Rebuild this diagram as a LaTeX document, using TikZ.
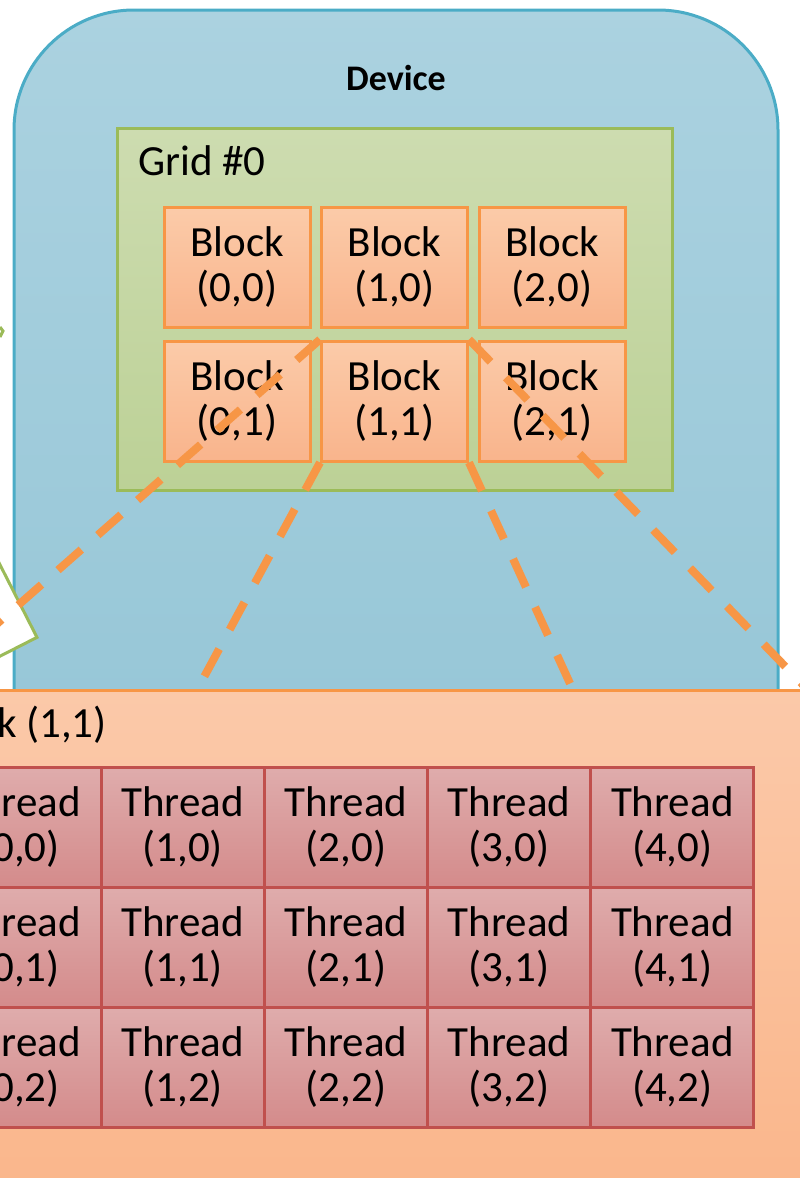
\documentclass[tikz,border=0pt]{standalone}
\usepackage{fontspec}
\setmainfont{Carlito}
\usetikzlibrary{positioning,calc}

\definecolor{devtop}{RGB}{171,210,224}
\definecolor{devbot}{RGB}{146,196,213}
\definecolor{devline}{RGB}{75,172,198}
\definecolor{gridtop}{RGB}{205,220,176}
\definecolor{gridbot}{RGB}{188,209,150}
\definecolor{gridline}{RGB}{155,187,89}
\definecolor{blktop}{RGB}{251,203,169}
\definecolor{blkbot}{RGB}{249,180,140}
\definecolor{blkline}{RGB}{247,150,70}
\definecolor{bigtop}{RGB}{251,201,169}
\definecolor{bigbot}{RGB}{250,180,136}
\definecolor{thrtop}{RGB}{223,172,172}
\definecolor{thrbot}{RGB}{212,139,139}
\definecolor{thrline}{RGB}{192,80,77}

\begin{document}
\begin{tikzpicture}[x=1pt,y=-1pt,font=\fontsize{43}{45}\selectfont]
\tikzstyle{devbox}=[draw=devline,line width=3pt,top color=devtop,bottom color=devbot,rounded corners=120pt,minimum width=764pt,minimum height=890pt,inner sep=0pt]
\tikzstyle{gridbox}=[draw=gridline,line width=3pt,top color=gridtop,bottom color=gridbot,minimum width=555pt,minimum height=362pt,inner sep=0pt]
\tikzstyle{blk}=[draw=blkline,line width=3pt,top color=blktop,bottom color=blkbot,minimum width=146pt,minimum height=120pt,inner sep=0pt,align=center]
\tikzstyle{bigbox}=[draw=blkline,line width=3pt,top color=bigtop,bottom color=bigbot,minimum width=880pt,minimum height=560pt,inner sep=0pt]
\tikzstyle{thr}=[draw=thrline,line width=3pt,top color=thrtop,bottom color=thrbot,minimum width=163pt,minimum height=120pt,inner sep=0pt,align=center]
\tikzstyle{panel}=[draw=gridline,line width=3pt,fill=white,minimum width=250pt,minimum height=400pt,inner sep=0pt]
\tikzstyle{zoomline}=[draw=blkline,line width=8pt,dash pattern=on 31pt off 22pt]
\useasboundingbox (0,0) rectangle (800,1178);
\clip (0,0) rectangle (800,1178);

\node[devbox] (dev) at (396,455) {};
\node[font=\fontsize{36}{40}\selectfont\bfseries,anchor=base] (devlbl) at (396,90) {Device};
\node[panel,rotate=27,anchor=south east] (side) at (39,638) {};
\draw[gridline,line width=3pt] (0,327) -- (3,331) -- (0,337);

\node[gridbox] (grid) at (394.5,309) {};
\node[anchor=base west,inner sep=0pt] (gridlbl) at (138,175) {Grid \#0};
\foreach \c in {0,1,2} \foreach \r in {0,1} {
  \node[blk] (b\c\r) at ({237+157.5*\c},{267+134*\r}) {Block\\(\c,\r)};
}

\node[bigbox] (big) at (365,970) {};
\node[anchor=base east,inner sep=0pt] (biglbl) at (107,737) {Block (1,1)};
\foreach \c in {0,...,4} \foreach \r in {0,1,2} {
  \node[thr] (t\c\r) at ({19.5+163.2*\c},{827+120*\r}) {Thread\\(\c,\r)};
}

% zoom into block (1,1)
\coordinate (e2) at (197,690);
\coordinate (e3) at (573,690);
\draw[zoomline] (b11.north west) -- (big.north west);
\draw[zoomline] (b11.south west) -- (e2);
\draw[zoomline] (b11.south east) -- (e3);
\draw[zoomline] (b11.north east) -- (big.north east);
\end{tikzpicture}
\end{document}
